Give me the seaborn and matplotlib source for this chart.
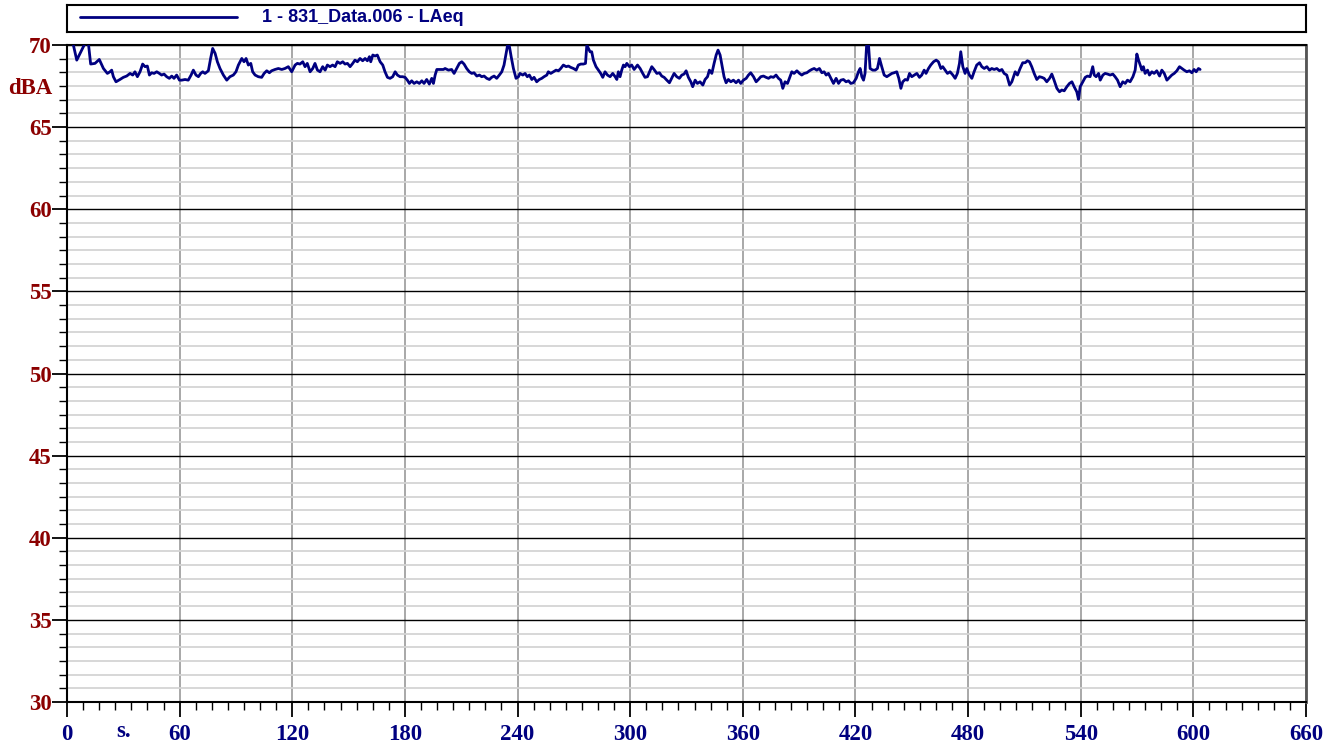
import numpy as np
import pandas as pd
import matplotlib
matplotlib.use('Agg')
import matplotlib.pyplot as plt
import seaborn as sns
from matplotlib.ticker import MultipleLocator, FixedLocator

# ==================== DATA ====================
SERIES_NAME = '1 - 831_Data.006 - LAeq'
Y_UNIT = 'dBA'
X_UNIT = 's.'

x_ticks = [0, 60, 120, 180, 240, 300, 360, 420, 480, 540, 600, 660]
y_ticks = [30, 35, 40, 45, 50, 55, 60, 65, 70]

time_s = [
    3.0, 5.2, 7.8, 9.6, 11.4, 12.6, 14.9, 17.2, 19.4, 21.5, 22.9, 23.8, 24.7, 26.1, 28.2,
    30.0, 31.8, 33.6, 35.0, 36.2, 37.5, 38.9, 40.3, 41.6, 42.8, 43.9, 45.1, 46.4, 47.8,
    49.2, 50.4, 51.7, 53.1, 54.5, 55.8, 57.0, 58.4, 59.9, 61.1, 62.9, 64.6, 66.1, 67.3,
    68.7, 70.0, 71.2, 72.3, 73.5, 75.3, 76.5, 77.6, 78.9, 80.1, 81.5, 83.3, 85.1, 86.8,
    88.6, 90.0, 91.3, 93.1, 94.3, 95.4, 96.6, 97.9,
    98.9, 100.2, 101.9, 103.7, 105.0, 106.4, 107.8, 109.0, 110.8, 112.6, 114.4, 116.1,
    117.9, 119.7, 121.5, 122.7, 124.1, 125.6, 126.8, 128.0, 129.5, 130.9, 132.1, 133.4,
    134.8, 136.2, 137.5, 138.7, 140.1, 141.5, 142.8, 144.0, 145.5, 146.9, 148.1, 149.4,
    150.8, 152.2, 153.4, 154.7, 156.1, 157.5, 158.8, 160.0, 161.1, 161.8, 162.9, 164.1,
    165.3, 166.8, 168.2, 169.4, 170.7, 172.1, 173.5, 174.8, 176.0, 177.4, 178.8, 180.1,
    181.3, 182.4, 183.6, 184.9, 186.3, 187.7, 189.0, 190.2, 191.6, 193.0, 194.3, 195.2,
    196.1, 197.0, 198.7, 200.5,
    201.4, 203.2, 204.9, 206.2, 207.6, 209.0, 210.3, 211.5, 212.9, 214.3, 215.6, 216.8,
    218.3, 219.7, 220.9, 222.2, 223.6, 225.0, 226.2, 227.5, 228.9, 230.3, 231.6, 232.8,
    233.9, 234.8, 235.7, 236.6, 237.8, 239.2, 240.5, 241.3, 242.8, 244.0, 245.2, 246.3,
    247.6, 248.8, 250.2, 251.6, 252.9, 254.1, 255.6, 256.4, 257.7, 259.1, 260.5, 261.8,
    263.0, 264.4, 265.9, 267.1, 268.3, 269.8, 271.2, 272.4, 273.7, 275.1, 276.2, 276.9,
    277.8, 278.6, 279.5, 280.4, 281.8, 283.1, 284.3, 285.4, 286.6, 287.9, 289.3, 290.7,
    292.0, 292.9, 293.7, 294.6, 295.5, 296.4, 297.3, 298.2, 299.6, 300.8, 302.1,
    303.9, 305.3, 306.7, 307.9, 309.2, 310.3, 311.5, 312.7, 314.2, 315.6, 316.8, 318.1,
    319.5, 320.9, 322.1, 323.4, 324.8, 326.2, 327.5, 328.7, 329.8, 331.0, 332.3, 333.3,
    334.6, 335.8, 337.2, 338.7, 339.9, 341.2, 342.2, 343.5, 344.7, 345.8, 346.8, 347.9,
    349.0, 350.0, 351.1, 352.3, 353.6, 355.0, 356.4, 357.7, 358.9, 360.3, 361.8, 363.0,
    364.2, 365.7, 367.1, 368.3, 369.6, 371.0, 372.4, 373.7, 374.9, 376.3, 377.7, 379.0,
    380.2, 381.3, 382.5, 383.8, 384.8, 386.1, 387.3, 388.8, 390.2, 391.4, 392.7, 394.1,
    395.5, 396.7, 398.0, 399.4, 400.8, 402.1, 403.3,
    404.4, 405.6, 406.9, 408.3, 409.7, 411.0, 412.2, 413.6, 415.0, 416.3, 417.5, 418.9,
    420.4, 421.6, 422.5, 423.4, 424.3, 425.1, 426.0, 426.9, 427.8, 429.2, 430.5, 431.7,
    432.8, 434.0, 435.3, 436.7, 438.1, 439.4, 440.6, 442.0, 443.1, 444.2, 445.2, 446.5,
    447.7, 448.8, 450.0, 451.3, 452.7, 454.1, 455.3, 456.6, 457.6, 458.9, 460.1, 461.6,
    463.0, 464.2, 465.5, 466.5, 467.8, 469.0, 470.4, 471.9, 473.1, 474.3, 475.4, 476.1,
    477.2, 478.4, 479.3, 480.7, 482.0, 483.2, 484.6, 486.1, 487.3, 488.6, 490.0, 491.4,
    492.6, 493.9, 495.3, 496.7, 498.0, 499.2, 500.6, 502.1, 503.3, 504.5,
    505.1, 506.3, 507.7, 509.1, 510.4, 511.6, 512.7, 513.9, 515.2, 516.6, 518.0, 519.3,
    520.5, 521.9, 523.4, 524.6, 525.8, 527.3, 528.7, 529.9, 531.2, 532.6, 534.0, 535.3,
    536.5, 537.9, 538.8, 539.7, 541.1, 542.4, 543.6, 545.0, 546.4, 547.2, 548.2, 549.5,
    550.4, 551.8, 553.0, 554.3, 555.7, 557.1, 558.3, 559.6, 561.0, 562.4, 563.7, 564.9,
    566.3, 567.8, 569.0, 569.9, 570.8, 571.7, 572.6, 573.4, 574.3, 575.6, 576.6, 577.9,
    579.1, 580.5, 582.0, 583.2, 584.5, 585.9, 587.3, 588.5, 589.8, 591.2, 592.6, 593.9,
    595.1, 596.5, 597.9, 599.2, 600.4, 601.5, 602.7, 603.6,
]

laeq_db = [
    70.2, 69.08, 69.69, 70.1, 70.1, 68.84, 68.88, 69.12, 68.57, 68.27, 68.37, 68.47, 68.07, 67.76, 67.90,
    68.03, 68.11, 68.27, 68.17, 68.37, 68.07, 68.37, 68.84, 68.68, 68.72, 68.17, 68.31, 68.27, 68.37,
    68.27, 68.17, 68.23, 68.07, 67.97, 68.11, 67.97, 68.17, 67.86, 67.86, 67.90, 67.86, 68.17, 68.47,
    68.17, 68.07, 68.27, 68.37, 68.27, 68.43, 69.18, 69.79, 69.49, 68.98, 68.57, 68.17, 67.86, 68.07,
    68.17, 68.37, 68.78, 69.18, 68.98, 69.18, 68.78, 68.88,
    68.37, 68.17, 68.07, 68.03, 68.27, 68.43, 68.31, 68.43, 68.51, 68.57, 68.51, 68.57,
    68.68, 68.37, 68.78, 68.88, 68.84, 68.98, 68.68, 68.88, 68.37, 68.57, 68.88, 68.47,
    68.37, 68.68, 68.47, 68.78, 68.68, 68.78, 68.68, 68.98, 68.88, 68.98, 68.84, 68.88,
    68.68, 68.88, 69.08, 68.98, 69.18, 69.04, 69.18, 69.04, 69.29, 68.98, 69.39, 69.33,
    69.39, 68.98, 68.78, 68.37, 68.03, 67.97, 68.07, 68.37, 68.17, 68.07, 68.07, 68.03,
    67.86, 67.66, 67.82, 67.66, 67.76, 67.66, 67.82, 67.66, 67.90, 67.62, 67.97, 67.66,
    68.17, 68.51, 68.51, 68.51,
    68.57, 68.47, 68.51, 68.27, 68.57, 68.88, 68.98, 68.84, 68.57, 68.37, 68.27, 68.31,
    68.11, 68.17, 68.07, 68.11, 67.97, 67.90, 68.03, 68.11, 67.97, 68.17, 68.37, 68.78,
    69.49, 70.05, 69.89, 69.29, 68.57, 67.97, 68.07, 68.27, 68.17, 68.27, 68.07, 68.17,
    67.90, 68.03, 67.76, 67.90, 67.97, 68.07, 68.17, 68.37, 68.27, 68.37, 68.47, 68.43,
    68.57, 68.78, 68.68, 68.72, 68.64, 68.57, 68.47, 68.78, 68.84, 68.84, 68.88, 70.0,
    69.79, 69.59, 69.59, 69.08, 68.68, 68.47, 68.27, 68.03, 68.37, 68.17, 68.07, 68.27,
    68.07, 67.90, 68.37, 68.07, 68.47, 68.78, 68.68, 68.88, 68.68, 68.78, 68.51,
    68.78, 68.57, 68.27, 68.03, 68.07, 68.37, 68.68, 68.51, 68.27, 68.31, 68.11, 68.03,
    67.86, 67.70, 67.97, 68.27, 68.07, 67.97, 68.17, 68.23, 68.43, 68.03, 67.76, 67.46,
    67.86, 67.66, 67.76, 67.56, 67.90, 68.07, 68.47, 68.27, 68.88, 69.39, 69.69, 69.39,
    68.68, 68.07, 67.70, 67.90, 67.76, 67.86, 67.70, 67.86, 67.66, 67.86, 67.97, 68.17,
    68.31, 68.07, 67.76, 67.90, 68.07, 68.11, 68.03, 67.97, 68.07, 68.03, 68.17, 67.97,
    67.86, 67.36, 67.76, 67.66, 67.97, 68.37, 68.27, 68.43, 68.27, 68.17, 68.27, 68.31,
    68.43, 68.51, 68.57, 68.47, 68.57, 68.31, 68.37,
    68.17, 68.27, 67.97, 67.66, 67.97, 67.66, 67.86, 67.90, 67.76, 67.82, 67.66, 67.70,
    67.97, 68.37, 68.57, 68.07, 67.86, 68.27, 70.1, 70.1, 68.57, 68.47, 68.47, 68.57,
    69.18, 68.68, 68.17, 68.07, 68.17, 68.27, 68.31, 68.37, 67.97, 67.36, 67.76, 67.90,
    67.86, 68.27, 68.07, 68.17, 68.27, 68.03, 68.17, 68.47, 68.27, 68.57, 68.78, 68.98,
    69.08, 68.98, 68.57, 68.68, 68.47, 68.27, 68.37, 68.17, 67.97, 68.27, 68.88, 69.59,
    68.68, 68.27, 68.57, 68.17, 67.97, 68.37, 68.78, 68.92, 68.68, 68.57, 68.68, 68.47,
    68.57, 68.51, 68.57, 68.43, 68.51, 68.27, 68.17, 67.56, 67.76, 68.17,
    68.37, 68.17, 68.57, 68.92, 68.92, 69.04, 68.98, 68.68, 68.27, 67.90, 68.07, 68.03,
    67.97, 67.76, 67.97, 68.23, 67.86, 67.36, 67.15, 67.26, 67.21, 67.46, 67.66, 67.76,
    67.46, 67.15, 66.69, 67.46, 67.76, 68.03, 68.11, 68.07, 68.68, 68.17, 68.07, 68.27,
    67.86, 68.17, 68.27, 68.23, 68.17, 68.23, 68.07, 67.86, 67.46, 67.76, 67.66, 67.86,
    67.76, 68.07, 68.47, 69.45, 69.08, 68.78, 68.47, 68.68, 68.27, 68.47, 68.17, 68.37,
    68.27, 68.43, 68.11, 68.47, 68.27, 67.86, 68.03, 68.17, 68.27, 68.43, 68.68, 68.57,
    68.47, 68.37, 68.43, 68.31, 68.51, 68.37, 68.57, 68.51,
]

# ==================== STYLE ====================
NAVY = '#000080'
DARK_RED = '#8b0000'
LABEL_SIZE = 16.5

sns.set_style('white')
plt.rcParams['font.family'] = ['Liberation Serif', 'DejaVu Serif']

df = pd.DataFrame({'time': time_s, 'level': laeq_db})

fig = plt.figure(figsize=(13.38, 7.45), dpi=100)
ax = fig.add_axes([67 / 1338, 1 - 702 / 745, (1306 - 67) / 1338, (702 - 45) / 745])

sns.lineplot(data=df, x='time', y='level', ax=ax, color=NAVY, linewidth=2.0,
             estimator=None, sort=True, zorder=5)

ax.set_xlim(0, 660)
ax.set_ylim(30, 70)
ax.set_xlabel('')
ax.set_ylabel('')

ax.xaxis.set_major_locator(FixedLocator(x_ticks))
ax.xaxis.set_minor_locator(MultipleLocator(60 / 7))
ax.yaxis.set_major_locator(FixedLocator(y_ticks))
ax.yaxis.set_minor_locator(MultipleLocator(5 / 6))

ax.set_axisbelow(True)
ax.grid(which='minor', axis='y', color='#d4d4d4', linewidth=1.3)
ax.grid(which='major', axis='y', color='black', linewidth=1.0)
ax.grid(which='major', axis='x', color='#9a9a9a', linewidth=1.2)

ax.tick_params(axis='both', which='both', bottom=True, left=True, top=False, right=False)
ax.tick_params(axis='both', which='major', direction='out', length=11, width=1.3,
               color='black', labelsize=LABEL_SIZE)
ax.tick_params(axis='both', which='minor', direction='out', length=6, width=1.0,
               color='black')
ax.tick_params(axis='y', which='major', pad=0, labelcolor=DARK_RED)
ax.tick_params(axis='x', which='major', pad=5, labelcolor=NAVY)
for lbl in ax.get_xticklabels() + ax.get_yticklabels():
    lbl.set_fontweight('bold')

for side in ['left', 'bottom', 'top']:
    ax.spines[side].set_color('black')
    ax.spines[side].set_linewidth(1.5)
ax.spines['right'].set_color('#555555')
ax.spines['right'].set_linewidth(2.0)

# unit labels
fig.text(52 / 1338, 1 - 88 / 745, Y_UNIT, ha='right', va='center', color=DARK_RED,
         fontsize=LABEL_SIZE, fontweight='bold')
ax.text(30, -0.045, X_UNIT, transform=ax.get_xaxis_transform(), ha='center', va='center',
        color=NAVY, fontsize=LABEL_SIZE, fontweight='bold')

# legend box
lax = fig.add_axes([67 / 1338, 1 - 32 / 745, (1306 - 67) / 1338, 27 / 745])
lax.set_xlim(0, 1239)
lax.set_ylim(0, 1)
lax.set_xticks([])
lax.set_yticks([])
for s in lax.spines.values():
    s.set_color('black')
    s.set_linewidth(1.5)
lax.plot([13, 170], [0.55, 0.55], color=NAVY, linewidth=2.0)
lax.text(195, 0.55, SERIES_NAME, ha='left', va='center', color=NAVY, fontsize=13,
         fontweight='bold', family=['Liberation Sans', 'DejaVu Sans'])

plt.savefig('out.png', dpi=100)
plt.close()
